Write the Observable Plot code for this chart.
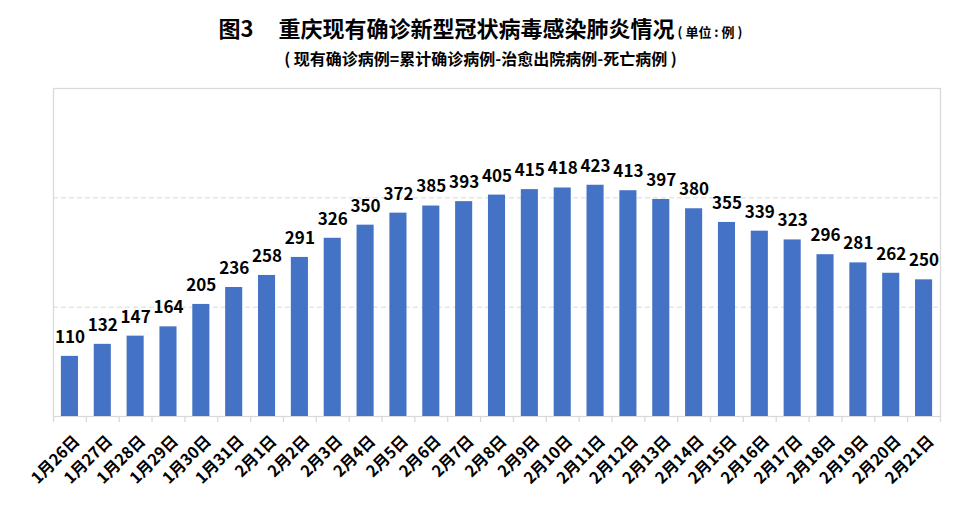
<!DOCTYPE html>
<html>
<head>
<meta charset="utf-8">
<script src="https://cdn.jsdelivr.net/npm/d3@7"></script>
<script src="https://cdn.jsdelivr.net/npm/@observablehq/plot@0.6"></script>
<style>
  html, body { margin: 0; padding: 0; background: #fff; }
  #wrap { position: relative; width: 961px; height: 511px; font-family: "Noto Sans CJK SC", "Noto Sans", sans-serif; }
  #title { position: absolute; left: 0; width: 961px; top: 13px; text-align: center; font-weight: bold; font-size: 22px; line-height: 28px; color: #000; white-space: pre; }
  #title .unit { font-size: 13px; }
  #subtitle { position: absolute; left: 0; width: 961px; top: 46px; text-align: center; font-weight: bold; font-size: 16px; line-height: 24px; color: #000; }
  #chart { position: absolute; left: 0; top: 0; }
</style>
</head>
<body>
<div id="wrap">
  <div id="chart"></div>
  <div id="title">图3     重庆现有确诊新型冠状病毒感染肺炎情况<span class="unit"> ( 单位 : 例 )</span></div>
  <div id="subtitle">( 现有确诊病例=累计确诊病例-治愈出院病例-死亡病例 )</div>
</div>
<script>
const dates = ["1月26日","1月27日","1月28日","1月29日","1月30日","1月31日","2月1日","2月2日","2月3日","2月4日","2月5日","2月6日","2月7日","2月8日","2月9日","2月10日","2月11日","2月12日","2月13日","2月14日","2月15日","2月16日","2月17日","2月18日","2月19日","2月20日","2月21日"];
const cases = [110,132,147,164,205,236,258,291,326,350,372,385,393,405,415,418,423,413,397,380,355,339,323,296,281,262,250];
const gridValues = [200, 400];

const data = dates.map((d, i) => ({date: d, value: cases[i]}));

const W = 961, H = 511, mL = 53, mR = 21, mT = 88, mB = 95;
const step = (W - mL - mR) / dates.length;
const barInset = step * 0.24;

const chart = Plot.plot({
  width: W,
  height: H,
  marginLeft: mL,
  marginRight: mR,
  marginTop: mT,
  marginBottom: mB,
  style: {fontFamily: '"Noto Sans CJK SC", sans-serif', background: "transparent"},
  x: {domain: dates, padding: 0, round: false, axis: null, label: null},
  y: {domain: [0, 600], axis: null},
  marks: [
    Plot.ruleY(gridValues, {stroke: "#d9d9d9", strokeWidth: 1, strokeDasharray: "5,3"}),
    Plot.frame({stroke: "#d9d9d9", strokeWidth: 1.3}),
    Plot.barY(data, {x: "date", y: "value", fill: "#4472C4", insetLeft: barInset, insetRight: barInset}),
    Plot.ruleX(dates, {x: d => d, y1: 0, y2: 0, insetBottom: -6, dx: -step / 2, stroke: "#d9d9d9", strokeWidth: 1.3}),
    Plot.ruleX([dates[dates.length - 1]], {x: d => d, y1: 0, y2: 0, insetBottom: -6, dx: step / 2, stroke: "#d9d9d9", strokeWidth: 1.3}),
    Plot.text(data, {x: "date", y: "value", text: d => String(d.value), dy: -19, fontSize: 17, fontWeight: "bold", fill: "#000"}),
    Plot.text(dates, {x: d => d, y: 0, text: d => d, rotate: -45, textAnchor: "end", lineAnchor: "middle", dx: 7, dy: 22, fontSize: 16, fontWeight: "bold", fill: "#000"})
  ]
});
document.getElementById("chart").appendChild(chart);
</script>
</body>
</html>
